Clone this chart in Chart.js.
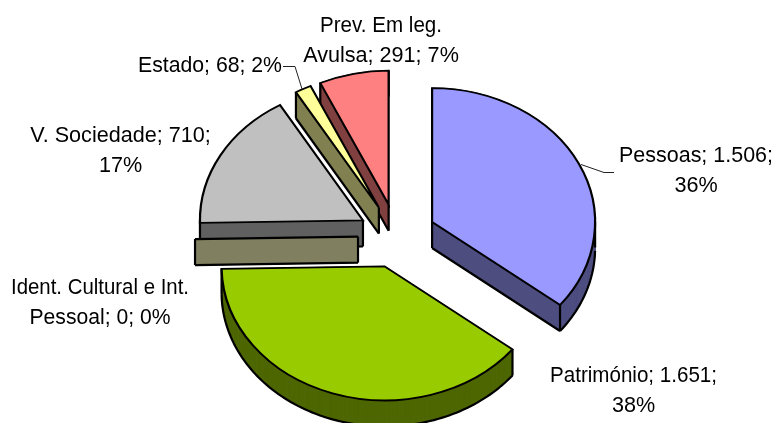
<!DOCTYPE html>
<html>
<head>
<meta charset="utf-8">
<style>html,body{margin:0;padding:0;background:#fff}canvas{display:block}</style>
<script src="https://cdn.jsdelivr.net/npm/chart.js@4/dist/chart.umd.min.js"></script>
</head>
<body>
<canvas id="c" width="777" height="423"></canvas>
<script>
const categories = ['Pessoas','Património','Ident. Cultural e Int. Pessoal','V. Sociedade','Estado','Prev. Em leg. Avulsa'];
const values = [1506,1651,0,710,68,291];
const percents = [36,38,0,17,2,7];
const topColors = ['#9999FF','#99CC00','#FFFFCC','#C0C0C0','#FFFF99','#FF8080'];
const wallColors = ['#4D4D80','#4D6600','#808060','#606060','#808050','#804040'];
const paintOrder = [5,4,3,2,0,1];
const labelBreaks = [['Pessoas; 1.506;','36%'],['Património; 1.651;','38%'],['Ident. Cultural e Int.','Pessoal; 0; 0%'],['V. Sociedade; 710;','17%'],['Estado; 68; 2%'],['Prev. Em leg.','Avulsa; 291; 7%']];
const labelFit = [[154,60],[167,60],[178,141],[181,60],[144],[122,157]];
const labelAnchors = [[696,162],[633.5,382],[100,294],[120.5,142],[210,72],[381,32]];
const leaders = [[[581,164.5],[604,172.5],[614,172.5]],null,null,null,[[283,66.5],[295,66.5],[302,89]],null];
const TILT = 0.822, DEPTH = 26, EXPLODE = 39;

const pie3d = {
  id:'pie3d',
  beforeDatasetDraw(chart,args){
    const ctx = chart.ctx, arcs = args.meta.data;
    paintOrder.forEach(i=>{
      const a = arcs[i], r = a.outerRadius, mid = (a.startAngle+a.endAngle)/2;
      const cx = a.x+Math.cos(mid)*EXPLODE, cy = a.y+Math.sin(mid)*EXPLODE*TILT;
      const rim = [], angles = [], n = Math.max(1,Math.ceil((a.endAngle-a.startAngle)*40));
      for(let s=0;s<=n;s++){const t=a.startAngle+(a.endAngle-a.startAngle)*s/n;angles.push(t);rim.push([cx+r*Math.cos(t),cy+r*TILT*Math.sin(t)]);}
      const apex = [cx,cy], poly = [apex,...rim];
      const startVisible = Math.sin(a.startAngle-Math.PI/2) > 0.001;
      const endVisible = Math.sin(a.endAngle+Math.PI/2) > 0.001;
      ctx.save();
      ctx.fillStyle = ctx.strokeStyle = wallColors[i];
      ctx.lineWidth = 1;
      poly.forEach((p,j)=>{
        const q = poly[(j+1)%poly.length];
        ctx.beginPath();ctx.moveTo(p[0],p[1]);ctx.lineTo(q[0],q[1]);ctx.lineTo(q[0],q[1]+DEPTH);ctx.lineTo(p[0],p[1]+DEPTH);ctx.closePath();ctx.fill();ctx.stroke();
      });
      ctx.strokeStyle='#000';ctx.lineWidth=2.2;ctx.lineJoin='round';
      ctx.beginPath();
      let pen=false;
      rim.forEach((p,j)=>{
        if(Math.sin(angles[j])>=-0.001){pen?ctx.lineTo(p[0],p[1]+DEPTH):ctx.moveTo(p[0],p[1]+DEPTH);pen=true;}else pen=false;
      });
      const edge=(p)=>{ctx.moveTo(apex[0],apex[1]+DEPTH);ctx.lineTo(p[0],p[1]+DEPTH);};
      if(startVisible)edge(rim[0]);
      if(endVisible)edge(rim[rim.length-1]);
      const vert=(p)=>{ctx.moveTo(p[0],p[1]);ctx.lineTo(p[0],p[1]+DEPTH);};
      vert(rim[0]);vert(rim[rim.length-1]);
      if(startVisible||endVisible)vert(apex);
      rim.forEach((p,j)=>{if(j&&j<rim.length-1&&(rim[j-1][0]-p[0])*(p[0]-rim[j+1][0])<=0)vert(p);});
      ctx.stroke();
      if(a.circumference===0){ctx.beginPath();poly.forEach((p,j)=>j?ctx.lineTo(p[0],p[1]):ctx.moveTo(p[0],p[1]));ctx.stroke();}
      ctx.restore();
      ctx.save();
      ctx.translate(cx,cy);ctx.scale(1,TILT);ctx.translate(-a.x,-a.y);
      a.draw(ctx);
      ctx.restore();
    });
    return false;
  },
  afterDraw(chart){
    const ctx = chart.ctx;
    ctx.save();
    ctx.strokeStyle='#222';ctx.lineWidth=1;
    leaders.forEach(l=>{if(!l)return;ctx.beginPath();l.forEach((p,j)=>j?ctx.lineTo(p[0],p[1]):ctx.moveTo(p[0],p[1]));ctx.stroke();});
    ctx.fillStyle='#000';ctx.font='21.6px "Liberation Sans"';ctx.textAlign='center';ctx.textBaseline='alphabetic';
    labelBreaks.forEach((lines,i)=>lines.forEach((t,j)=>ctx.fillText(t,labelAnchors[i][0],labelAnchors[i][1]+j*30,labelFit[i][j])));
    ctx.restore();
  }
};

new Chart(document.getElementById('c'),{
  type:'pie',
  data:{labels:categories,datasets:[{data:values,backgroundColor:topColors,borderColor:'#000',borderWidth:2.2,borderJoinStyle:'miter',clip:false}]},
  options:{
    responsive:false,animation:false,rotation:0,radius:163,
    layout:{padding:{left:17,top:49}},
    plugins:{legend:{display:false},tooltip:{enabled:false},title:{display:false}}
  },
  plugins:[pie3d]
});
</script>
</body>
</html>
